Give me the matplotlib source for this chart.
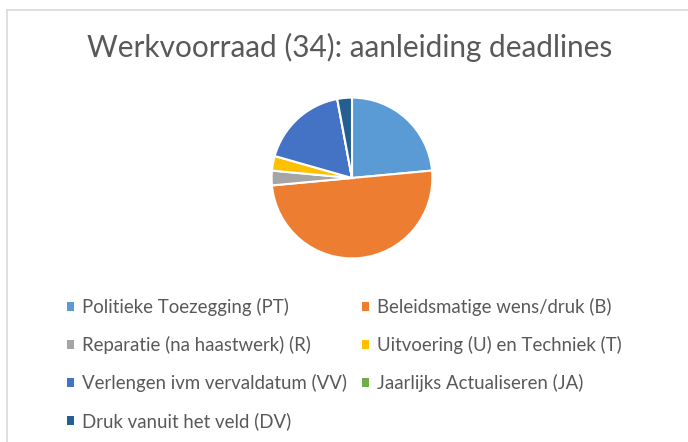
import matplotlib.pyplot as plt
from matplotlib.patches import Patch
from matplotlib.lines import Line2D

labels = ['Politieke Toezegging (PT)', 'Beleidsmatige wens/druk (B)',
          'Reparatie (na haastwerk) (R)', 'Uitvoering (U) en Techniek (T)',
          'Verlengen ivm vervaldatum (VV)', 'Jaarlijks Actualiseren (JA)',
          'Druk vanuit het veld (DV)']
counts = [8, 17, 1, 1, 6, 0, 1]
colors = ['#5B9BD5', '#ED7D31', '#A5A5A5', '#FFC000', '#4472C4', '#70AD47', '#255E91']

W, H = 688, 442
fig = plt.figure(figsize=(W / 100, H / 100), dpi=100)
fig.patch.set_facecolor('white')

# chart border (only top and left visible)
fig.add_artist(Line2D([7 / W, 7 / W], [0, 1 - 10 / H], transform=fig.transFigure,
                      color='#d9d9d9', lw=1.2))
fig.add_artist(Line2D([7 / W, 1], [1 - 10 / H, 1 - 10 / H], transform=fig.transFigure,
                      color='#d9d9d9', lw=1.2))

fig.text(350 / W, 1 - 47 / H, 'Werkvoorraad (34): aanleiding deadlines',
         ha='center', va='center', fontsize=21.4, color='#595959', family='Lato')

cx, cy, r = 352, 178, 82
ax = fig.add_axes([(cx - r) / W, (H - cy - r) / H, 2 * r / W, 2 * r / H])
ax.pie(counts, colors=colors, startangle=90, counterclock=False,
       wedgeprops=dict(edgecolor='white', linewidth=1.5))
ax.set_xlim(-1.02, 1.02)
ax.set_ylim(-1.02, 1.02)
ax.set_aspect('equal')
ax.axis('off')

handles = [Patch(facecolor=c, edgecolor='none') for c in colors]
leg_kw = dict(loc='upper left', frameon=False, borderpad=0, borderaxespad=0,
              handlelength=0.35, handleheight=0.35, handletextpad=0.45,
              labelspacing=1.08, prop={'family': 'Lato', 'size': 13.4},
              labelcolor='#595959')
col1 = [0, 2, 4, 6]
col2 = [1, 3, 5]
fig.legend([handles[i] for i in col1], [labels[i] for i in col1],
           bbox_to_anchor=(67 / W, 1 - 298 / H), **leg_kw)
fig.legend([handles[i] for i in col2], [labels[i] for i in col2],
           bbox_to_anchor=(362 / W, 1 - 298 / H), **leg_kw)

fig.savefig('out.png', dpi=100)
